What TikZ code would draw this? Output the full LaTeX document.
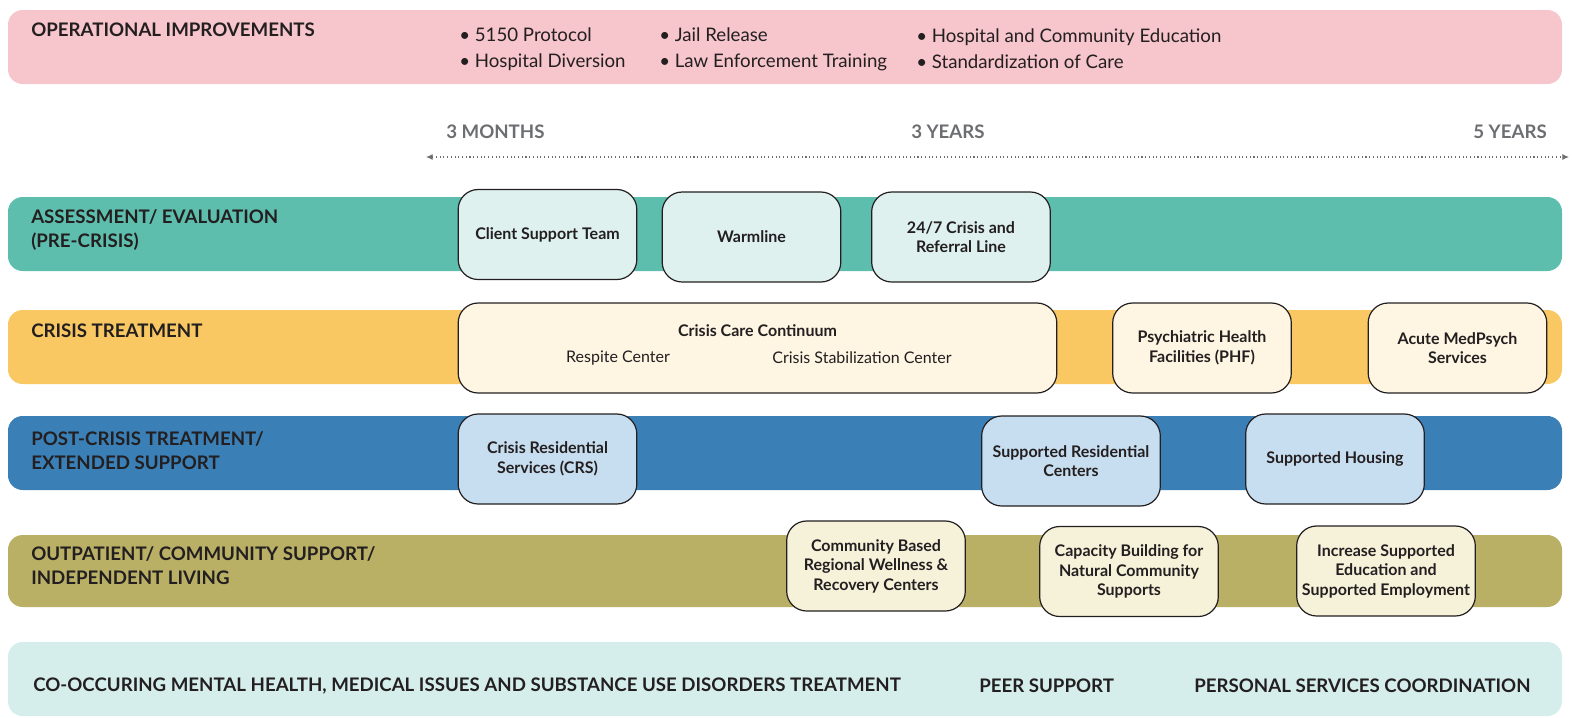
\documentclass[tikz,border=0pt]{standalone}
\usepackage{fontspec}
\setmainfont{Lato}
\usepackage{tikz}
\usetikzlibrary{arrows.meta}

\definecolor{bandPink}{RGB}{247,197,204}
\definecolor{bandTeal}{RGB}{94,190,173}
\definecolor{bandOrange}{RGB}{249,200,99}
\definecolor{bandBlue}{RGB}{58,128,183}
\definecolor{bandOlive}{RGB}{185,176,102}
\definecolor{bandMint}{RGB}{213,238,235}
\definecolor{boxTeal}{RGB}{222,241,238}
\definecolor{boxCream}{RGB}{254,246,227}
\definecolor{boxBlue}{RGB}{199,221,240}
\definecolor{boxOlive}{RGB}{246,241,217}
\definecolor{inkDark}{RGB}{35,31,32}
\definecolor{inkGray}{RGB}{109,110,113}

\tikzset{
  band/.style={rounded corners=11pt},
  bandlabel/.style={anchor=west, inner sep=0.75pt, align=left, text=inkDark,
    font=\fontsize{14}{18}\selectfont\bfseries},
  bullets/.style={anchor=west, inner sep=0.75pt, align=left, text=inkDark,
    font=\fontsize{14}{19.5}\selectfont},
  yearlabel/.style={inner sep=0.75pt, text=inkGray, font=\fontsize{14}{17}\selectfont\bfseries},
  progbox/.style={draw=inkDark, line width=0.9pt, rounded corners=15pt,
    minimum width=134pt, minimum height=67.5pt, align=center, inner sep=2pt,
    text=inkDark, font=\fontsize{12}{14.6}\selectfont\bfseries},
  subitem/.style={inner sep=0.75pt, text=inkDark, font=\fontsize{12}{14.6}\selectfont}
}

\begin{document}
\begin{tikzpicture}[x=0.75pt,y=0.75pt,yscale=-1,xscale=1]
\useasboundingbox (0,0) rectangle (1572,718);

%Shape: Rounded Rect [bands]
\fill[bandPink, band] (8,10) rectangle (1562,84);
\fill[bandTeal, band] (8,197) rectangle (1562,271);
\fill[bandOrange, band] (8,310) rectangle (1562,384);
\fill[bandBlue, band] (8,416) rectangle (1562,490);
\fill[bandOlive, band] (8,535) rectangle (1562,607);
\fill[bandMint, band] (8,642) rectangle (1562,716);

% Text Node
\node[bandlabel] (opimp) at (30,30) {OPERATIONAL IMPROVEMENTS};
\node[bullets] (bulA) at (458,49) {• 5150 Protocol\\• Hospital Diversion};
\node[bullets] (bulB) at (658,49) {• Jail Release\\• Law Enforcement Training};
\node[bullets] (bulC) at (915,49) {• Hospital and Community Education\\• Standardization of Care};

% Text Node
\node[yearlabel, anchor=west] (tmonths) at (445,132) {3 MONTHS};
\node[yearlabel, anchor=west] (tthree) at (910,132) {3 YEARS};
\node[yearlabel, anchor=east] (tfive) at (1548,132) {5 YEARS};

%Straight Lines [timeline]
\coordinate (tlstart) at (426,157);
\coordinate (tlend) at (1569,157);
\draw[inkGray, dotted, line width=0.8pt, {Latex[length=5pt,width=4.5pt]}-{Latex[length=5pt,width=4.5pt]}] (tlstart) -- (tlend);

% Text Node
\node[bandlabel] (assess) at (30,230.5) {ASSESSMENT/ EVALUATION\\(PRE-CRISIS)};
\node[bandlabel] (crisis) at (30,331) {CRISIS TREATMENT};
\node[bandlabel] (postcrisis) at (30,450.5) {POST-CRISIS TREATMENT/\\EXTENDED SUPPORT};
\node[bandlabel] (outpat) at (30,566) {OUTPATIENT/ COMMUNITY SUPPORT/\\INDEPENDENT LIVING};

%Shape: Rounded Rect [assessment boxes]
\node[progbox, fill=boxTeal] (cst) at (547.5,234.5) {Client Support Team};
\node[progbox, fill=boxTeal] (warm) at (751.5,237) {Warmline};
\node[progbox, fill=boxTeal] (crline) at (961,237) {24/7 Crisis and\\Referral Line};

%Shape: Rounded Rect [crisis boxes]
\node[progbox, fill=boxCream, minimum width=449pt] (ccc) at (757.5,348) {};
\node[progbox, fill=boxCream] (phf) at (1202,348) {Psychiatric Health\\Facilities (PHF)};
\node[progbox, fill=boxCream] (acute) at (1457.5,348) {Acute MedPsych\\Services};
% Text Node
\node[subitem, font=\fontsize{12}{14.6}\selectfont\bfseries] (ccctitle) at (757.5,331) {Crisis Care Continuum};
\node[subitem] (respite) at (618,358) {Respite Center};
\node[subitem] (stabil) at (862,358) {Crisis Stabilization Center};

%Shape: Rounded Rect [post-crisis boxes]
\node[progbox, fill=boxBlue] (crs) at (547.5,459) {Crisis Residential\\Services (CRS)};
\node[progbox, fill=boxBlue] (srescen) at (1071,461) {Supported Residential\\Centers};
\node[progbox, fill=boxBlue] (shousing) at (1335,459) {Supported Housing};

%Shape: Rounded Rect [outpatient boxes]
\node[progbox, fill=boxOlive] (cbrw) at (876,566) {Community Based\\Regional Wellness \&\\Recovery Centers};
\node[progbox, fill=boxOlive] (capb) at (1129,571.5) {Capacity Building for\\Natural Community\\Supports};
\node[progbox, fill=boxOlive] (incsup) at (1386,571) {Increase Supported\\Education and\\Supported Employment};

% Text Node
\node[bandlabel] (cooccur) at (32,686) {CO-OCCURING MENTAL HEALTH, MEDICAL ISSUES AND SUBSTANCE USE DISORDERS TREATMENT};
\node[bandlabel] (peer) at (978,686) {PEER SUPPORT};
\node[bandlabel] (psc) at (1193,686) {PERSONAL SERVICES COORDINATION};

\end{tikzpicture}
\end{document}
